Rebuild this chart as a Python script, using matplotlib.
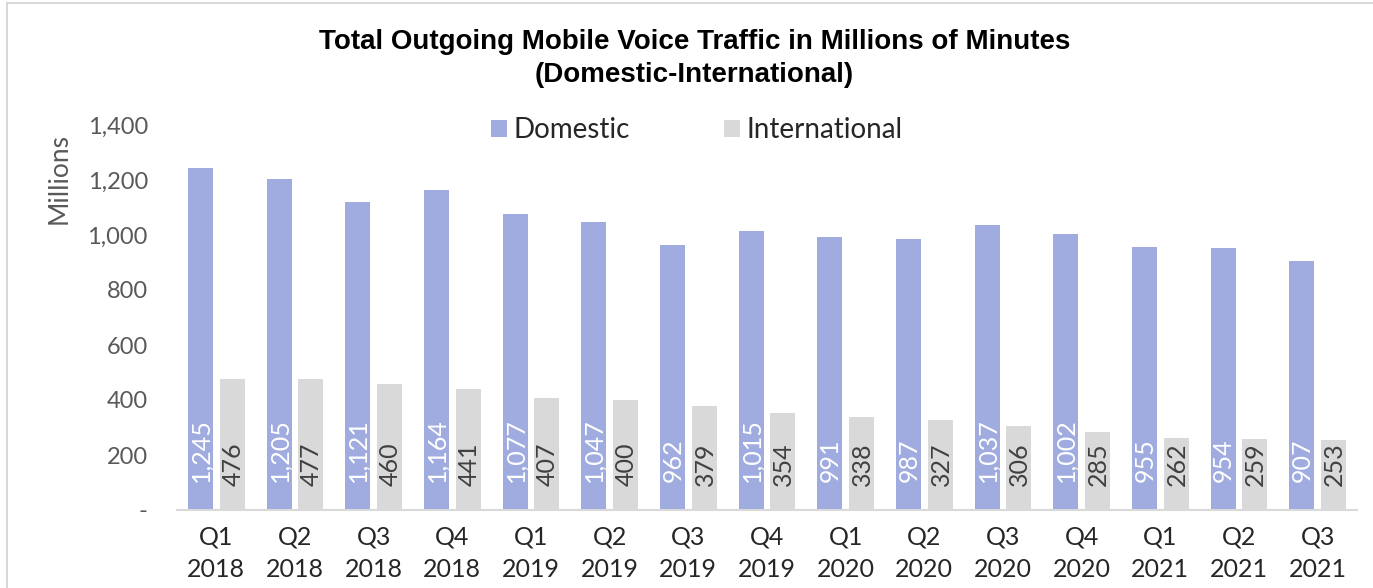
import matplotlib
matplotlib.use("Agg")
import matplotlib.pyplot as plt
from matplotlib.patches import Rectangle
import numpy as np

quarters = ["Q1\n2018", "Q2\n2018", "Q3\n2018", "Q4\n2018",
            "Q1\n2019", "Q2\n2019", "Q3\n2019", "Q4\n2019",
            "Q1\n2020", "Q2\n2020", "Q3\n2020", "Q4\n2020",
            "Q1\n2021", "Q2\n2021", "Q3\n2021"]
domestic = [1245, 1205, 1121, 1164, 1077, 1047, 962, 1015, 991, 987, 1037, 1002, 955, 954, 907]
international = [476, 477, 460, 441, 407, 400, 379, 354, 338, 327, 306, 285, 262, 259, 253]
yticks = [0, 200, 400, 600, 800, 1000, 1200, 1400]
ytick_labels = ["-", "200", "400", "600", "800", "1,000", "1,200", "1,400"]

DOM_C = "#A0ACE0"
INT_C = "#D9D9D9"
FONT = "Lato"

plt.rcParams["font.family"] = [FONT, "DejaVu Sans"]

W, H = 1373, 588
fig = plt.figure(figsize=(W / 100, H / 100), dpi=100)
fig.patch.set_facecolor("white")

# figure border (chart frame)
fig.add_artist(Rectangle((7 / W, -0.2), 1.2, 1.2 - 3 / H, transform=fig.transFigure,
                         fill=False, edgecolor="#D9D9D9", linewidth=1.5))

ax = fig.add_axes([177 / W, 1 - 510 / H, (1357 - 177) / W, (510 - 125) / H])

x = np.arange(len(quarters))
bw = 0.318
off = 0.203
b1 = ax.bar(x - off, domestic, bw, color=DOM_C, label="Domestic", zorder=2)
b2 = ax.bar(x + off, international, bw, color=INT_C, label="International", zorder=2)

for xi, v in zip(x - off, domestic):
    ax.annotate(f"{v:,}", xy=(xi, 0), xytext=(0.5, 20), textcoords="offset points",
                rotation=90, ha="center", va="bottom", color="white", fontsize=18)
for xi, v in zip(x + off, international):
    ax.annotate(f"{v:,}", xy=(xi, 0), xytext=(0.5, 17), textcoords="offset points",
                rotation=90, ha="center", va="bottom", color="#404040", fontsize=18)

ax.set_xlim(-0.5, len(quarters) - 0.5)
ax.set_ylim(0, 1400)
ax.set_yticks(yticks)
ax.set_yticklabels(ytick_labels)
ax.set_xticks(x)
ax.set_xticklabels(quarters, linespacing=1.5)
ax.tick_params(axis="y", length=0, pad=21, labelsize=17, labelcolor="#595959")
ax.tick_params(axis="x", length=0, pad=11, labelsize=18, labelcolor="#262626")

for s in ["top", "right", "left"]:
    ax.spines[s].set_visible(False)
ax.spines["bottom"].set_color("#D9D9D9")
ax.spines["bottom"].set_linewidth(1.5)

ax.set_ylabel("Millions", fontsize=19, color="#595959")
ax.yaxis.set_label_coords(-105 / (1357 - 177), (510 - 178) / (510 - 125))

fig.text(0.5 + 8 / W, 1 - 42 / H, "Total Outgoing Mobile Voice Traffic in Millions of Minutes",
         ha="center", va="center", fontsize=20, fontweight="bold", color="black",
         family=["Liberation Sans", "DejaVu Sans"])
fig.text(0.5 + 8 / W, 1 - 75 / H, "(Domestic-International)",
         ha="center", va="center", fontsize=20, fontweight="bold", color="black",
         family=["Liberation Sans", "DejaVu Sans"])

leg = fig.legend(handles=[b1, b2], labels=["Domestic", "International"], ncol=2,
                 loc="center", bbox_to_anchor=(697 / W, 1 - 130 / H), frameon=False,
                 fontsize=20, handlelength=0.55, handleheight=0.55, handletextpad=0.25,
                 columnspacing=3.4, labelcolor="#262626")

fig.savefig("out.png", dpi=100, facecolor="white")
